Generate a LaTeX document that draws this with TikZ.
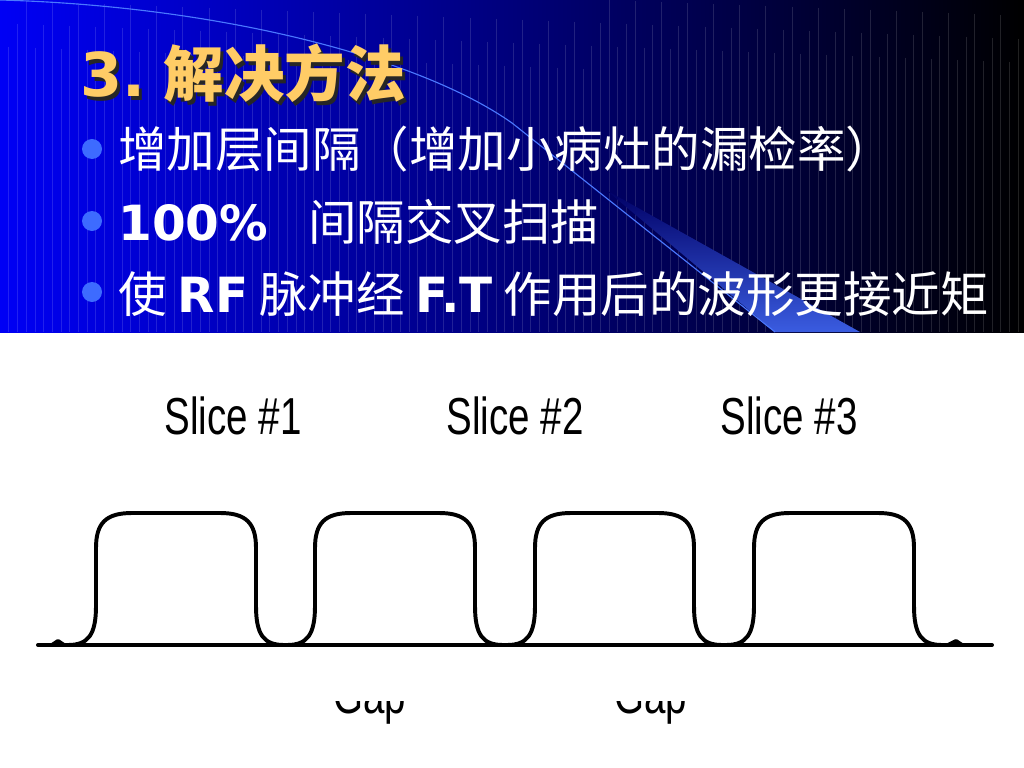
\documentclass[tikz,border=0pt]{standalone}
\usepackage{fontspec}
\usetikzlibrary{positioning}
\newfontfamily\cjk{Noto Sans CJK SC}
\newfontfamily\verd{DejaVu Sans}
\newfontfamily\helv{Liberation Sans}
\definecolor{slideblue}{HTML}{0000F5}
\definecolor{gold}{HTML}{FFCC66}
\definecolor{dotblue}{HTML}{3D6BFF}
\definecolor{swoosh}{HTML}{3A5CE0}
\definecolor{arcblue}{HTML}{4A78FF}
\newcommand\shadowed[1]{\makebox[0pt][l]{\hspace{2.2pt}\raisebox{-2.2pt}{\color{black!85}#1}}{\color{gold}#1}}

\begin{document}
\begin{tikzpicture}[
  x=0.025cm, y=-0.025cm,
  ttl/.style={anchor=base west,inner sep=0,font=\cjk\bfseries\fontsize{43}{50}\selectfont},
  item/.style={anchor=base west,inner sep=0,text=white,font=\cjk\fontsize{34.5}{40}\selectfont},
  dot/.style={circle,fill=dotblue,inner sep=0,minimum size=0.5cm},
  slice/.style={anchor=base,inner sep=0,font=\helv\fontsize{37}{40}\selectfont},
  wave/.style={line width=2.8pt,line join=round,line cap=round}
]
\useasboundingbox (0,0) rectangle (1024,768);
% slide background
\shade[left color=slideblue,right color=black] (0,0) rectangle (1024,332);
\foreach \i in {1,...,117}{
  \pgfmathsetmacro\xx{\i*8.7}
  \pgfmathsetmacro\yy{mod(\i*47,70)}
  \draw[white,opacity=0.13,line width=0.3pt] (\xx,\yy) -- (\xx,332);
}
\shade[top color=blue!40!black,bottom color=swoosh] (606,190) -- (775,332) -- (860,332) -- cycle;
\draw[arcblue,line width=0.8pt] (0,0) .. controls (220,6) and (420,58) .. (512,123) -- (775,332);

% title and bullets
\node[ttl] (title) at (80,97) {\shadowed{{\verd 3.} 解决方法}};
\node[dot] (d1) at (92,149) {};
\node[dot] (d2) at (92,221) {};
\node[dot] (d3) at (92,292) {};
\node[item] (b1) at (118,168) {增加层间隔（增加小病灶的漏检率）};
\node[item] (b2) at (118,240) {{\verd\bfseries 100\%}\hspace{0.6em} 间隔交叉扫描};
\node[item] (b3) at (118,312) {使 {\verd\bfseries RF} 脉冲经 {\verd\bfseries F.T} 作用后的波形更接近矩};
\node[item] (b3w) at (118,384) {形};

% figure area
\fill[white] (0,334) rectangle (1024,768);
\node[slice] (s1) at (233,434) {\scalebox{0.74}[1]{Slice \#1}};
\node[slice] (s2) at (515,434) {\scalebox{0.74}[1]{Slice \#2}};
\node[slice] (s3) at (789,434) {\scalebox{0.74}[1]{Slice \#3}};

\draw[wave] (38,645) -- (992,645);
\draw[wave] (52,645) -- (58,641) -- (64,645);
\draw[wave] (948,645) -- (956,641) -- (962,645);
\foreach \l/\r in {96/256,315/475,535/694,754/914}
  \draw[wave] (\l-28,645) .. controls (\l-8,645) and (\l,635) .. (\l,606) -- (\l,548)
    .. controls (\l,523) and (\l+10,513) .. (\l+36,513) -- (\r-36,513)
    .. controls (\r-10,513) and (\r,523) .. (\r,548) -- (\r,606)
    .. controls (\r,635) and (\r+8,645) .. (\r+28,645);

\begin{scope}
  \clip (0,701) rectangle (1024,768);
  \node[slice] (g1) at (370,713) {\scalebox{0.74}[1]{Gap}};
  \node[slice] (g2) at (651,713) {\scalebox{0.74}[1]{Gap}};
\end{scope}
\end{tikzpicture}
\end{document}
